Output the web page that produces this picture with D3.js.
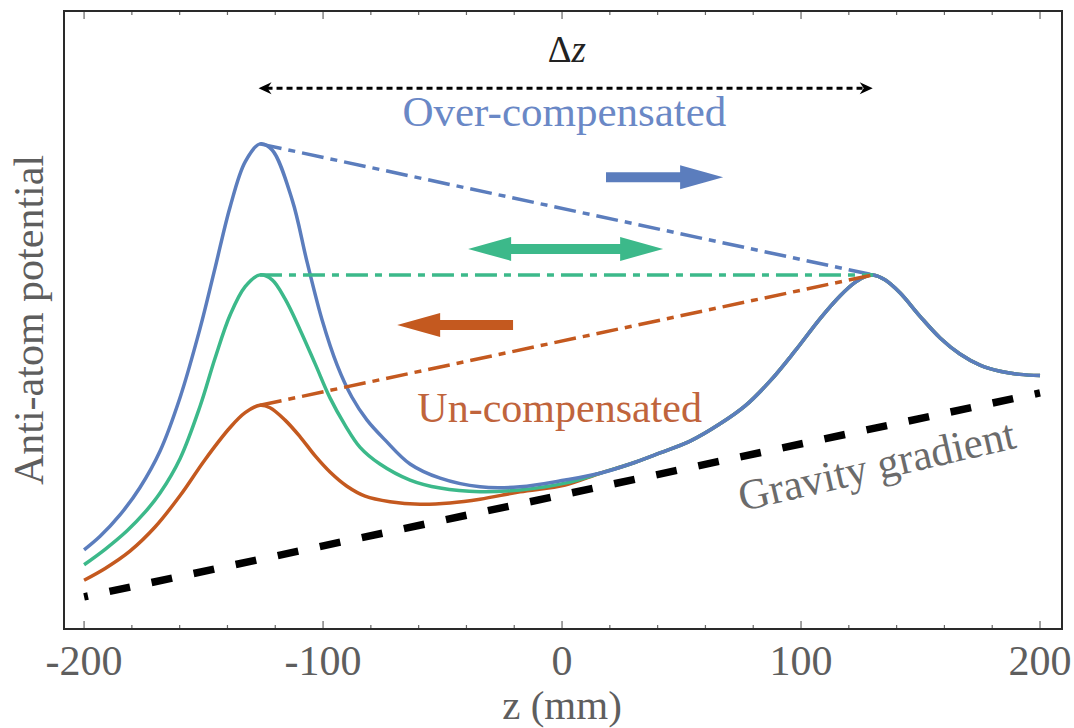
<!DOCTYPE html>
<html>
<head>
<meta charset="utf-8">
<script src="https://cdn.jsdelivr.net/npm/d3@7"></script>
<style>
  body { margin: 0; background: #fff; }
  text { font-family: 'Liberation Serif', 'Times New Roman', serif; }
</style>
</head>
<body>
<script>
// z in mm, potential in arbitrary units (0 = bottom of frame, 100 = top)
const overLeft = [[-200, 12.8], [-193.3, 15.0], [-184.9, 18.5], [-176.6, 22.9], [-168.2, 28.8],
  [-159.8, 37.5], [-151.5, 48.6], [-145.2, 58.4], [-138.9, 68.3], [-132.6, 75.6], [-126.4, 78.5],
  [-121.3, 77.5], [-112.9, 69.4], [-106.7, 59.4], [-100.4, 50.0], [-94.1, 42.7], [-87.9, 37.5],
  [-81.6, 33.8], [-74.1, 30.6], [-63.6, 26.7], [-51.0, 24.4], [-34.3, 23.0], [-17.6, 23.0],
  [1.3, 24.1]];
const balancedLeft = [[-200, 10.4], [-191.2, 12.9], [-182.0, 15.9], [-174.5, 18.9], [-168.2, 22.0],
  [-159.8, 27.6], [-151.5, 36.0], [-145.2, 43.8], [-138.9, 50.8], [-132.6, 55.4], [-126.4, 57.3],
  [-121.3, 56.5], [-115.9, 53.4], [-109.6, 48.4], [-103.3, 42.9], [-97.1, 37.4], [-90.8, 33.0],
  [-84.5, 29.4], [-76.2, 26.7], [-63.6, 24.1], [-51.0, 22.8], [-34.3, 22.2], [-17.6, 22.5],
  [1.3, 23.6]];
const unLeft = [[-200, 7.9], [-191.2, 9.8], [-180.8, 12.6], [-170.3, 16.5], [-159.8, 21.6],
  [-149.4, 27.4], [-138.9, 32.6], [-132.6, 35.0], [-126.4, 36.2], [-122.2, 35.8], [-115.9, 33.8],
  [-109.6, 31.1], [-103.3, 28.0], [-97.1, 25.4], [-90, 23.1], [-82.4, 21.5], [-72.0, 20.6],
  [-59.4, 20.2], [-46.9, 20.4], [-34.3, 21.0], [-17.6, 22.2], [1.3, 23.3]];
// all three curves merge on the right side
const sharedRight = [[15.9, 25.2], [28.5, 26.7], [41.0, 28.5], [53.6, 30.4], [66.1, 33.2],
  [76.6, 36.1], [87.0, 40.1], [97.5, 45.0], [107.9, 50.2], [116.3, 53.9], [122.6, 56.1],
  [126.8, 57.0], [130.1, 57.3], [135.1, 56.5], [141.4, 54.4], [149.8, 50.6], [158.2, 47.1],
  [166.5, 44.5], [174.9, 42.7], [183.3, 41.7], [191.6, 41.2], [200, 41.0]];
const gravityLine = [[-200, 5.2], [200, 38.2]];

// peak to peak links
const overLink = [[-126.4, 78.5], [130.1, 57.3]];
const balancedLink = [[-126.4, 57.3], [130.1, 57.3]];
const unLink = [[-126.4, 36.2], [130.1, 57.3]];

// annotations: [zStart, zEnd, potential]
const deltaArrow = [-127, 130, 87.5];
const overArrow = [18.4, 67.4, 73.1];
const balancedArrow = [-39.3, 42.3, 61.5];
const unArrow = [-20.5, -69, 49.2];

const majorTicks = [-200, -100, 0, 100, 200];
const minorTicks = d3.range(-200, 201, 20);

(function() {

  let svgContainer = '';
  let xScale, yScale;

  const blue = '#5b7dbd';
  const green = '#3cb98a';
  const orange = '#c4591f';

  window.onload = function() {
    svgContainer = d3.select('body')
      .append('svg')
      .attr('width', 1074)
      .attr('height', 728);

    xScale = d3.scaleLinear().domain([-208.4, 209.2]).range([64, 1062]);
    yScale = d3.scaleLinear().domain([0, 100]).range([629, 11]);

    drawFrame();
    drawCurves();
    drawAnnotations();
  };

  // frame, ticks and axis labels
  function drawFrame() {
    let top = yScale(100), bottom = yScale(0);

    minorTicks.forEach((t) => {
      let len = majorTicks.includes(t) ? 8 : 4;
      [[bottom, -len], [top, len]].forEach((p) => {
        svgContainer.append('line')
          .attr('x1', xScale(t)).attr('x2', xScale(t))
          .attr('y1', p[0]).attr('y2', p[0] + p[1])
          .attr('stroke', '#666')
          .attr('stroke-width', 1.2);
      });
    });

    svgContainer.append('rect')
      .attr('x', xScale.range()[0])
      .attr('y', top)
      .attr('width', xScale.range()[1] - xScale.range()[0])
      .attr('height', bottom - top)
      .attr('fill', 'none')
      .attr('stroke', '#2a2a2a')
      .attr('stroke-width', 2);

    svgContainer.selectAll('.tickLabel')
      .data(majorTicks)
      .enter()
      .append('text')
        .attr('x', (d) => xScale(d))
        .attr('y', 675)
        .attr('text-anchor', 'middle')
        .style('font-size', '42px')
        .style('fill', '#5e5e5e')
        .text((d) => d);

    svgContainer.append('text')
      .attr('x', xScale(0))
      .attr('y', 719)
      .attr('text-anchor', 'middle')
      .style('font-size', '41px')
      .style('fill', '#5e5e5e')
      .text('z (mm)');

    svgContainer.append('text')
      .attr('transform', 'translate(43, 320)rotate(-90)')
      .attr('text-anchor', 'middle')
      .style('font-size', '42px')
      .style('fill', '#5e5e5e')
      .text('Anti-atom potential');
  }

  // potential curves and their peak links
  function drawCurves() {
    let line = d3.line()
      .x((d) => xScale(d[0]))
      .y((d) => yScale(d[1]));
    let smooth = d3.line()
      .x((d) => xScale(d[0]))
      .y((d) => yScale(d[1]))
      .curve(d3.curveCatmullRom.alpha(0.5));

    // Gravity gradient
    svgContainer.append('path')
      .attr('d', line(gravityLine))
      .attr('fill', 'none')
      .attr('stroke', '#000')
      .attr('stroke-width', 7.5)
      .attr('stroke-dasharray', '21,22')
      .attr('stroke-dashoffset', 17);

    [[unLeft, orange], [balancedLeft, green], [overLeft, blue]].forEach((c) => {
      svgContainer.append('path')
        .attr('d', smooth(c[0].concat(sharedRight)))
        .attr('fill', 'none')
        .attr('stroke', c[1])
        .attr('stroke-width', 3.5);
    });

    [[overLink, blue], [balancedLink, green], [unLink, orange]].forEach((c) => {
      svgContainer.append('path')
        .attr('d', line(c[0]))
        .attr('fill', 'none')
        .attr('stroke', c[1])
        .attr('stroke-width', 3.5)
        .attr('stroke-dasharray', '22,7,7,7');
    });
  }

  // block arrow with one or two heads
  function blockArrow(a, color, twoHeads) {
    let x1 = xScale(a[0]), x2 = xScale(a[1]), y = yScale(a[2]);
    let dir = x2 > x1 ? 1 : -1;
    let headLen = 43, headH = 12, shaft = 5;
    let xb = x2 - dir * headLen;
    let xa = twoHeads ? x1 + dir * headLen : x1;
    let pts = [];
    if (twoHeads) {
      pts.push([x1, y], [xa, y - headH]);
    }
    pts.push([xa, y - shaft], [xb, y - shaft], [xb, y - headH], [x2, y],
      [xb, y + headH], [xb, y + shaft], [xa, y + shaft]);
    if (twoHeads) {
      pts.push([xa, y + headH]);
    }
    svgContainer.append('path')
      .attr('d', 'M' + pts.join('L') + 'Z')
      .attr('fill', color);
  }

  function drawAnnotations() {
    // delta z dotted arrow
    let y = yScale(deltaArrow[2]);
    let xl = xScale(deltaArrow[0]), xr = xScale(deltaArrow[1]);
    svgContainer.append('line')
      .attr('x1', xl + 8).attr('x2', xr - 8)
      .attr('y1', y).attr('y2', y)
      .attr('stroke', '#000')
      .attr('stroke-width', 2.8)
      .attr('stroke-dasharray', '6,4');
    [[xl, 1], [xr, -1]].forEach((p) => {
      svgContainer.append('path')
        .attr('d', 'M' + p[0] + ',' + y +
          'L' + (p[0] + p[1] * 13) + ',' + (y - 6) +
          'L' + (p[0] + p[1] * 9) + ',' + y +
          'L' + (p[0] + p[1] * 13) + ',' + (y + 6) + 'Z')
        .attr('fill', '#000');
    });

    let dz = svgContainer.append('text')
      .attr('x', xScale(2))
      .attr('y', yScale(91.7))
      .attr('text-anchor', 'middle')
      .style('font-size', '37px')
      .style('fill', '#222');
    dz.append('tspan').text('Δ');
    dz.append('tspan').style('font-style', 'italic').text('z');

    svgContainer.append('text')
      .attr('x', xScale(1))
      .attr('y', yScale(81.4))
      .attr('text-anchor', 'middle')
      .style('font-size', '43px')
      .style('fill', '#6a88c6')
      .text('Over-compensated');

    svgContainer.append('text')
      .attr('x', xScale(-1))
      .attr('y', yScale(33.5))
      .attr('text-anchor', 'middle')
      .style('font-size', '42px')
      .style('fill', '#c0643c')
      .text('Un-compensated');

    svgContainer.append('text')
      .attr('transform', 'translate(' + xScale(133) + ',' + yScale(24.2) + ')rotate(-13)')
      .attr('text-anchor', 'middle')
      .style('font-size', '43px')
      .style('fill', '#6b6b6b')
      .text('Gravity gradient');

    blockArrow(overArrow, blue, false);
    blockArrow(balancedArrow, green, true);
    blockArrow(unArrow, orange, false);
  }

})();
</script>
</body>
</html>
